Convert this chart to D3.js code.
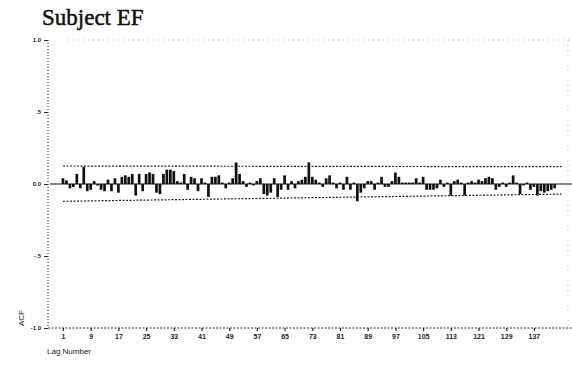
<!DOCTYPE html>
<html>
<head>
<meta charset="utf-8">
<script src="https://cdn.jsdelivr.net/npm/d3@7"></script>
<style>
  body { margin: 0; background: #fff; }
  svg { display: block; }
</style>
</head>
<body>
<div id="chart"></div>
<script>
// autocorrelations, lag 1..143
const acf = [
  0.04, 0.025, -0.03, -0.02, 0.07, -0.03, 0.12, -0.05, -0.04, 0.02,
  -0.01, -0.04, -0.05, 0.03, -0.05, 0.04, -0.06, 0.05, 0.06, 0.05,
  0.07, -0.08, 0.07, -0.05, 0.07, 0.08, 0.07, -0.06, -0.07, 0.07,
  0.1, 0.1, 0.09, 0.02, 0.01, 0.07, -0.04, 0.05, 0.04, -0.05,
  0.04, 0.01, -0.09, 0.05, 0.05, 0.06, 0.01, -0.03, 0.01, 0.04,
  0.15, 0.07, 0.02, -0.02, 0.01, -0.01, 0.02, 0.04, -0.07, -0.08,
  -0.06, 0.04, -0.09, -0.04, 0.06, -0.04, 0.02, -0.03, 0.02, 0.03,
  0.05, 0.15, 0.05, 0.03, 0.01, -0.02, 0.04, 0.06, 0.01, -0.03,
  0.01, -0.04, 0.05, -0.04, 0.01, -0.12, -0.06, -0.03, 0.02, 0.02,
  -0.04, 0.01, 0.05, -0.02, -0.02, 0.02, 0.08, 0.05, 0.01, 0.01,
  0.01, 0.01, 0.04, 0.01, 0.05, -0.04, -0.04, -0.04, -0.03, 0.03,
  -0.02, 0.01, -0.08, 0.02, 0.03, 0.01, -0.08, 0.01, 0.02, 0.01,
  0.03, 0.02, 0.04, 0.05, 0.04, -0.04, -0.02, 0.01, -0.02, 0.01,
  0.06, 0.01, -0.07, -0.01, 0.01, -0.04, -0.02, -0.08, -0.05, -0.06,
  -0.05, -0.04, -0.03
];
const lags = acf.map((d, i) => i + 1);

// confidence limits, read at first and last lag
const bandLags = [1, 145];
const upperLimit = [0.125, 0.12];
const lowerLimit = [-0.12, -0.07];

const xTicks = [1, 9, 17, 25, 33, 41, 49, 57, 65, 73, 81, 89, 97, 105, 113, 121, 129, 137];
const yTicks = [1, 0.5, 0, -0.5, -1];
const yTickLabels = ['1.0', '.5', '0.0', '-.5', '-1.0'];

const width = 572, height = 370;
const plot = { left: 48, right: 572, top: 40, bottom: 328 };

const svg = d3.select('#chart').append('svg').attr('width', width).attr('height', height);

const x = d3.scaleLinear().domain([-3.33, 148]).range([plot.left, plot.right]);
const y = d3.scaleLinear().domain([-1, 1]).range([plot.bottom, plot.top]);

svg.append('text')
  .attr('x', 42).attr('y', 25)
  .style('font-family', '"Liberation Serif", "Times New Roman", serif')
  .style('font-size', '23px')
  .attr('fill', '#111')
  .attr('stroke', '#111')
  .attr('stroke-width', 0.5)
  .text('Subject EF');

// frame: dotted left, bottom, sparse top & right
const frame = svg.append('g').attr('stroke', '#333').attr('fill', 'none');
frame.append('line').attr('x1', plot.left).attr('x2', plot.left).attr('y1', plot.top).attr('y2', plot.bottom)
  .attr('stroke-dasharray', '1 2');
frame.append('line').attr('x1', plot.left).attr('x2', plot.right).attr('y1', plot.bottom).attr('y2', plot.bottom)
  .attr('stroke-dasharray', '2 1.5');
frame.append('line').attr('x1', plot.left + 20).attr('x2', plot.right).attr('y1', plot.top).attr('y2', plot.top)
  .attr('stroke-dasharray', '1 4').attr('stroke', '#aaa');
frame.append('line').attr('x1', plot.right - 4).attr('x2', plot.right - 4).attr('y1', plot.top).attr('y2', plot.bottom)
  .attr('stroke-dasharray', '1 4').attr('stroke', '#bbb');

// y axis
const yAxis = svg.append('g')
  .attr('transform', `translate(${plot.left},0)`)
  .call(d3.axisLeft(y).tickValues(yTicks).tickSize(4).tickPadding(3)
    .tickFormat((d, i) => yTickLabels[i]));
yAxis.select('.domain').remove();
yAxis.selectAll('line').attr('stroke', '#222');
yAxis.selectAll('text')
  .style('font-family', '"Liberation Sans", Arial, sans-serif')
  .style('font-size', '6px').style('font-weight', 'bold').attr('fill', '#222');

// x axis
const xAxis = svg.append('g')
  .attr('transform', `translate(0,${plot.bottom})`)
  .call(d3.axisBottom(x).tickValues(xTicks).tickSize(3).tickPadding(3));
xAxis.select('.domain').remove();
xAxis.selectAll('line').attr('stroke', '#222').attr('stroke-width', 1.2);
xAxis.selectAll('text')
  .style('font-family', '"Liberation Sans", Arial, sans-serif')
  .style('font-size', '7px').style('font-weight', 'bold').attr('fill', '#222');

svg.append('text')
  .attr('transform', `translate(24,${plot.bottom - 10}) rotate(-90)`)
  .attr('text-anchor', 'middle')
  .style('font-family', '"Liberation Sans", Arial, sans-serif')
  .style('font-size', '8px').attr('fill', '#222')
  .text('ACF');

svg.append('text')
  .attr('x', 47).attr('y', 354)
  .style('font-family', '"Liberation Sans", Arial, sans-serif')
  .style('font-size', '8px').attr('fill', '#222')
  .text('Lag Number');

// confidence limits
const band = d3.line().x(d => x(d[0])).y(d => y(d[1]));
[upperLimit, lowerLimit].forEach(lim => {
  svg.append('path')
    .datum(bandLags.map((l, i) => [l, lim[i]]))
    .attr('d', band)
    .attr('fill', 'none')
    .attr('stroke', '#222')
    .attr('stroke-width', 1.2)
    .attr('stroke-dasharray', '2 1.5');
});

// zero line
svg.append('line')
  .attr('x1', plot.left + 2).attr('x2', plot.right)
  .attr('y1', y(0)).attr('y2', y(0))
  .attr('stroke', '#111').attr('stroke-width', 1.2);

// bars
const bw = 2.7;
svg.append('g').selectAll('rect')
  .data(acf)
  .join('rect')
  .attr('x', (d, i) => x(lags[i]) - bw / 2)
  .attr('y', d => y(Math.max(0, d)))
  .attr('width', bw)
  .attr('height', d => Math.abs(y(d) - y(0)))
  .attr('fill', '#111');
</script>
</body>
</html>
